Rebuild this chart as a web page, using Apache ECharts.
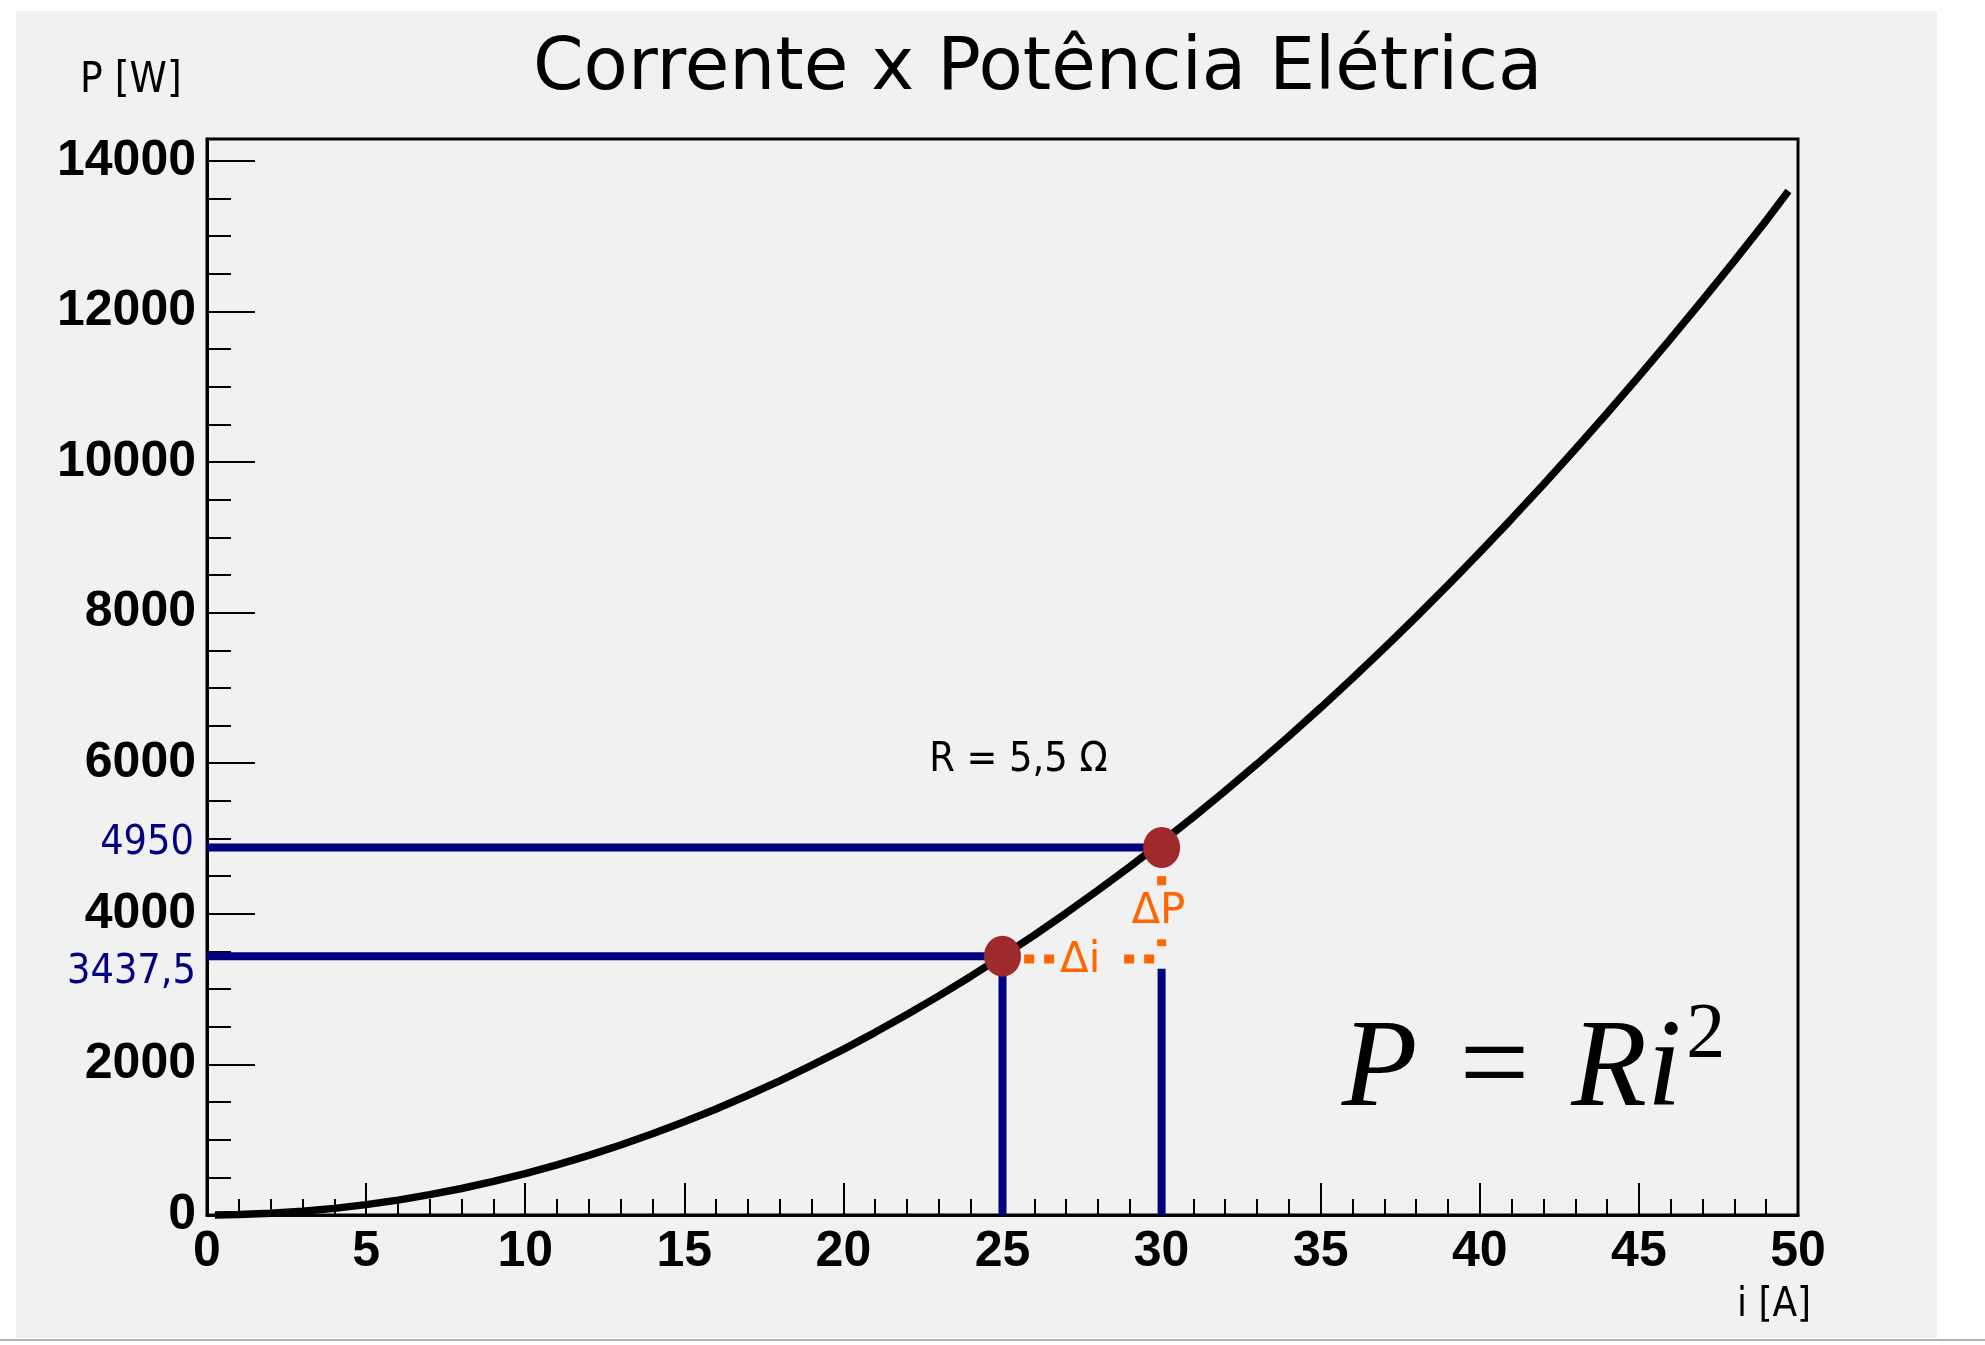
<!DOCTYPE html>
<html>
<head>
<meta charset="utf-8">
<script src="https://cdn.jsdelivr.net/npm/echarts@6/dist/echarts.min.js"></script>
<style>
html,body{margin:0;padding:0;background:#ffffff;}
#c{width:1985px;height:1345px;}
</style>
</head>
<body>
<div id="c"></div>
<script>
// ---- data ----
const currentA = [0.25, 1, 2, 3, 4, 5, 6, 7, 8, 9, 10, 11, 12, 13, 14, 15, 16, 17, 18, 19, 20,
  21, 22, 23, 24, 25, 26, 27, 28, 29, 30, 31, 32, 33, 34, 35, 36, 37, 38, 39, 40,
  41, 42, 43, 44, 45, 46, 47, 48, 49, 49.7];
const powerW = [0, 6, 22, 50, 88, 138, 198, 270, 352, 446, 550, 666, 792, 930, 1078, 1238, 1408, 1590, 1782, 1986, 2200,
  2426, 2662, 2910, 3168, 3438, 3718, 4010, 4312, 4626, 4950, 5286, 5632, 5990, 6358, 6738, 7128, 7530, 7942, 8366, 8800,
  9246, 9702, 10170, 10648, 11138, 11638, 12150, 12672, 13206, 13600];
const xTicks = [0, 5, 10, 15, 20, 25, 30, 35, 40, 45, 50];
const yTicks = [0, 2000, 4000, 6000, 8000, 10000, 12000, 14000];
const markI = [25, 30];
const markP = [3437.5, 4880];          // drawn levels of the two marked points
const markPLabels = ['3437,5', '4950'];
const guide30EndP = 3270;      // blue vertical at i=30 stops here
const deltaLevelP = 3400;      // level of the orange Δi line
const deltaIStart = 25.68, deltaIEnd = 29.8;
const deltaPTop = 4500, deltaPBottom = 3520;
const titleText = 'Corrente x Potência Elétrica';
const yName = 'P [W]';
const xName = 'i [A]';
const rText = 'R = 5,5 Ω';

const X_MIN = 0, X_MAX = 50, Y_MIN = 0, Y_MAX = 14290;
const NAVY = '#000080', ORANGE = '#ff6600', DOT = '#9e2a2b', BG = '#f1f1f1';

const chart = echarts.init(document.getElementById('c'), null, {renderer: 'canvas'});

const tickFont = {color: '#000', fontFamily: 'Liberation Sans', fontWeight: 'bold', fontSize: 50};
const solid = {opacity: 1};

const option = {
  animation: false,
  backgroundColor: '#ffffff',
  graphic: [
    {type: 'rect', z: -100, silent: true, shape: {x: 16, y: 11, width: 1921, height: 1327}, style: {fill: BG}},
    {type: 'line', z: -90, silent: true, shape: {x1: 0, y1: 1340, x2: 1985, y2: 1340}, style: {stroke: '#b4b4b4', lineWidth: 2}}
  ],
  title: [
    {text: titleText, left: 533, top: 34, textStyle: {fontFamily: 'DejaVu Sans', fontWeight: 'normal', fontSize: 72.5, color: '#000', lineHeight: 72}, padding: 0},
    {text: yName, left: 80, top: 60, textStyle: {fontFamily: 'DejaVu Sans Condensed', fontWeight: 'normal', fontSize: 42, color: '#000', lineHeight: 42}, padding: 0},
    {text: xName, left: 1737, top: 1286, textStyle: {fontFamily: 'DejaVu Sans Condensed', fontWeight: 'normal', fontSize: 40, color: '#000', lineHeight: 40}, padding: 0}
  ],
  grid: {left: 207, top: 139, width: 1591, height: 1076, show: true, borderColor: '#000', borderWidth: 3, backgroundColor: 'transparent', containLabel: false},
  xAxis: {
    type: 'value', min: X_MIN, max: X_MAX, interval: xTicks[1] - xTicks[0],
    axisLine: {show: true, onZero: false, lineStyle: {color: '#000', width: 3}},
    axisTick: {show: true, inside: true, length: 32, lineStyle: {color: '#000', width: 2}},
    minorTick: {show: true, splitNumber: 5, length: 16, lineStyle: {color: '#000', width: 2}},
    splitLine: {show: false},
    axisLabel: Object.assign({margin: 12, formatter: v => xTicks.includes(v) ? String(v) : ''}, tickFont)
  },
  yAxis: [
    {
      type: 'value', min: Y_MIN, max: Y_MAX, interval: yTicks[1] - yTicks[0], position: 'left',
      axisLine: {show: true, onZero: false, lineStyle: {color: '#000', width: 3}},
      axisTick: {show: true, inside: true, length: 48, lineStyle: {color: '#000', width: 2}},
      splitLine: {show: false},
      axisLabel: Object.assign({margin: 11, showMaxLabel: false, formatter: v => yTicks.includes(v) ? String(v) : ''}, tickFont)
    },
    {
      type: 'value', min: Y_MIN, max: Y_MAX, interval: (yTicks[1] - yTicks[0]) / 4, position: 'left', offset: 0,
      axisLine: {show: false},
      axisTick: {show: true, inside: true, length: 24, lineStyle: {color: '#000', width: 2}},
      splitLine: {show: false},
      axisLabel: {show: false}
    }
  ],
  series: [
    // blue guide lines
    {type: 'line', z: 2, symbol: 'none', silent: true, lineStyle: {color: NAVY, width: 8, cap: 'butt'},
      data: [[X_MIN, markP[1]], [markI[1], markP[1]]]},
    {type: 'line', z: 2, symbol: 'none', silent: true, lineStyle: {color: NAVY, width: 8, cap: 'butt'},
      data: [[X_MIN, markP[0]], [markI[0], markP[0]]]},
    {type: 'line', z: 2, symbol: 'none', silent: true, lineStyle: {color: NAVY, width: 8, cap: 'butt'},
      data: [[markI[0], Y_MIN], [markI[0], markP[0]]]},
    {type: 'line', z: 2, symbol: 'none', silent: true, lineStyle: {color: NAVY, width: 8, cap: 'butt'},
      data: [[markI[1], Y_MIN], [markI[1], guide30EndP]]},
    // orange delta lines
    {type: 'line', z: 3, symbol: 'none', silent: true, lineStyle: {color: ORANGE, width: 9, type: [10, 10], cap: 'butt'},
      data: [[deltaIStart, deltaLevelP], [deltaIEnd, deltaLevelP]]},
    {type: 'line', z: 3, symbol: 'none', silent: true, lineStyle: {color: ORANGE, width: 9, type: [10, 10], cap: 'butt'},
      data: [[markI[1], deltaPTop], [markI[1], deltaPBottom]]},
    // the curve
    {type: 'line', z: 4, symbol: 'none', silent: true, clip: false, lineStyle: {color: '#000', width: 7.5},
      data: currentA.map((x, k) => [x, powerW[k]])},
    // the two points
    {type: 'scatter', z: 6, symbol: 'circle', symbolSize: [37, 41], itemStyle: {color: DOT, opacity: 1},
      data: markI.map((x, k) => [x, markP[k]])},
    // blue value labels
    {type: 'scatter', z: 7, symbolSize: 0, clip: false, silent: true, itemStyle: solid,
      data: [
        {value: [X_MIN, markP[1]], label: {show: true, formatter: markPLabels[1], position: 'left', distance: 13, offset: [0, -4]}},
        {value: [X_MIN, markP[0]], label: {show: true, formatter: markPLabels[0], position: 'left', distance: 11, offset: [0, 16]}}
      ],
      label: {color: NAVY, fontFamily: 'DejaVu Sans Condensed', fontSize: 41, opacity: 1}},
    // text annotations
    {type: 'scatter', z: 8, symbolSize: 0, clip: false, silent: true, itemStyle: solid,
      data: [
        {value: [25.5, 6043], label: {show: true, formatter: rText, color: '#000', fontFamily: 'DejaVu Sans Condensed', fontSize: 41}},
        {value: [27.69, 3370], label: {show: true, formatter: 'Δi', color: ORANGE, fontFamily: 'DejaVu Sans', fontSize: 42, backgroundColor: BG, padding: [4, 18, 0, 2]}},
        {value: [29.9, 4020], label: {show: true, formatter: 'ΔP', color: ORANGE, fontFamily: 'DejaVu Sans', fontSize: 42, backgroundColor: BG, padding: [6, 2, 6, 2]}},
        {value: [41.0, 1900], label: {show: true, formatter: '{it|P}{eq|=}{it|Ri}', rich: {
          it: {fontFamily: 'Liberation Serif', fontStyle: 'italic', fontSize: 124, color: '#000'},
          eq: {fontFamily: 'Liberation Serif', fontSize: 124, color: '#000', padding: [0, 42, 0, 42]}
        }}},
        {value: [47.1, 2380], label: {show: true, formatter: '2', color: '#000', fontFamily: 'Liberation Serif', fontSize: 78}}
      ],
      label: {position: 'inside', opacity: 1}}
  ]
};
chart.setOption(option);
</script>
</body>
</html>
